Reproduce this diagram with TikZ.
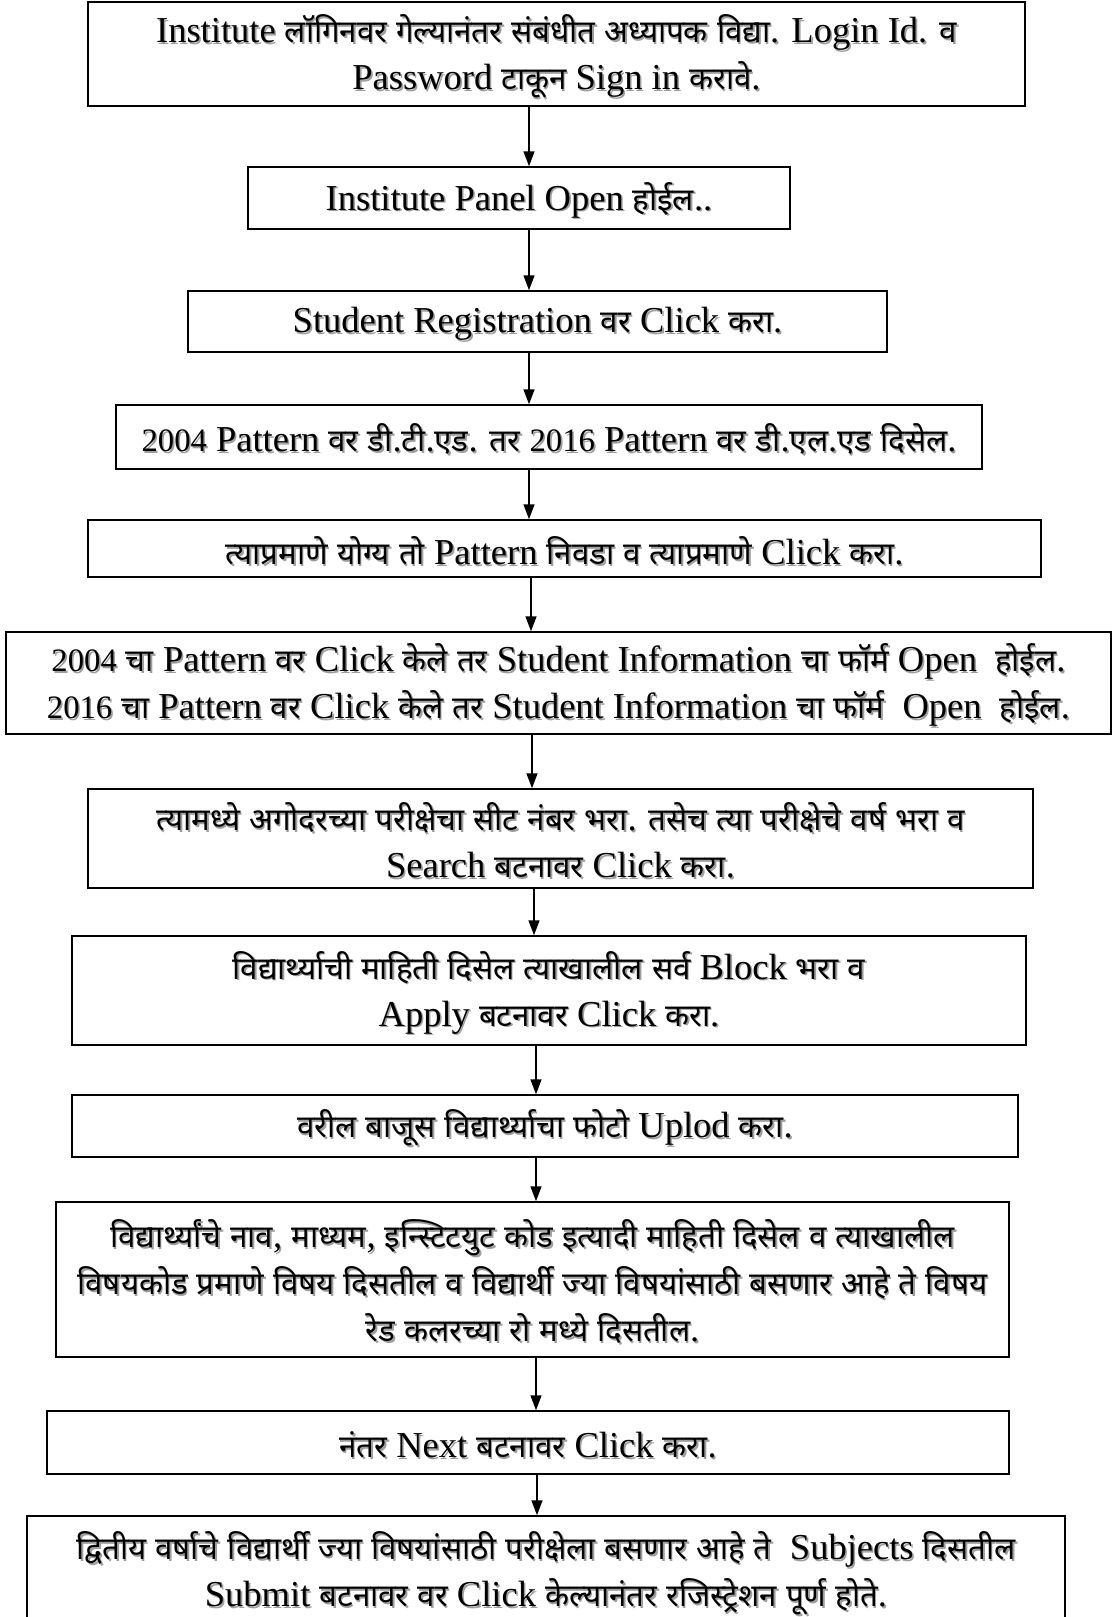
\documentclass[tikz,border=0pt]{standalone}
\usepackage{fontspec}
\setmainfont{Liberation Serif}
\newfontfamily\devfont[Script=Devanagari,Scale=0.855]{Noto Sans}
\usetikzlibrary{arrows.meta}
\definecolor{shadowgray}{gray}{0.62}
\XeTeXinterchartokenstate=1
\newXeTeXintercharclass\DevClass
\newcount\dvc
\dvc="0900
\loop\ifnum\dvc<"0980 \XeTeXcharclass\dvc=\DevClass \advance\dvc by 1 \repeat
\XeTeXinterchartoks 0 \DevClass = {\begingroup\devfont}
\XeTeXinterchartoks 4095 \DevClass = {\begingroup\devfont}
\XeTeXinterchartoks \DevClass 0 = {\endgroup}
\XeTeXinterchartoks \DevClass 4095 = {\endgroup}
\newcommand\st[1]{\leavevmode\raisebox{-3pt}[\height][\depth]{\rlap{\kern1.6pt\raisebox{-1.6pt}{\color{shadowgray}#1}}#1}}
\newcommand\dg[1]{{\fontsize{32.7}{47}\selectfont #1}}
\begin{document}
\begin{tikzpicture}[x=1pt,y=1pt,
  box/.style={draw=black,line width=1.5pt,align=center,inner sep=0pt,font=\fontsize{36.5}{47}\selectfont},
  arr/.style={line width=1.5pt,-{Triangle[length=15pt,width=11pt]}}]
\useasboundingbox (0,0) rectangle (1112,-1617);
\clip (0,0) rectangle (1112,-1617);
\fill[white] (0,0) rectangle (1112,-1617);

\node[box,minimum width=937pt,minimum height=104pt] (b1) at (556.5,-54)
  {\st{Institute लॉगिनवर गेल्यानंतर संबंधीत अध्यापक विद्या. Login Id. व}\\ \st{Password टाकून Sign in करावे.}};
\node[box,minimum width=542pt,minimum height=62pt] (b2) at (519,-198)
  {\st{Institute Panel Open होईल..}};
\node[box,minimum width=699pt,minimum height=61pt] (b3) at (537.5,-321.5)
  {\st{Student Registration वर Click करा.}};
\node[box,minimum width=866pt,minimum height=64pt] (b4) at (549,-437)
  {\st{\dg{2004} Pattern वर डी.टी.एड. तर \dg{2016} Pattern वर डी.एल.एड दिसेल.}};
\node[box,minimum width=953pt,minimum height=57pt] (b5) at (564.5,-548.5)
  {\st{त्याप्रमाणे योग्य तो Pattern निवडा व त्याप्रमाणे Click करा.}};
\node[box,minimum width=1105pt,minimum height=102pt] (b6) at (558.5,-683)
  {\st{\dg{2004} चा Pattern वर Click केले तर Student Information चा फॉर्म Open\ \ होईल.}\\
   \st{\dg{2016} चा Pattern वर Click केले तर Student Information चा फॉर्म\ \ Open\ \ होईल.}};
\node[box,minimum width=945pt,minimum height=99pt] (b7) at (560.5,-838.5)
  {\st{त्यामध्ये अगोदरच्या परीक्षेचा सीट नंबर भरा. तसेच त्या परीक्षेचे वर्ष भरा व}\\ \st{Search बटनावर Click करा.}};
\node[box,minimum width=954pt,minimum height=109pt] (b8) at (549,-990.5)
  {\st{विद्यार्थ्याची माहिती दिसेल त्याखालील सर्व Block भरा व}\\ \st{Apply बटनावर Click करा.}};
\node[box,minimum width=946pt,minimum height=62pt] (b9) at (545,-1126)
  {\st{वरील बाजूस विद्यार्थ्याचा फोटो Uplod करा.}};
\node[box,minimum width=953pt,minimum height=155pt] (b10) at (532.5,-1279.5)
  {\st{विद्यार्थ्यांचे नाव, माध्यम, इन्स्टिटयुट कोड इत्यादी माहिती दिसेल व त्याखालील}\\
   \st{विषयकोड प्रमाणे विषय दिसतील व विद्यार्थी ज्या विषयांसाठी बसणार आहे ते विषय}\\
   \st{रेड कलरच्या रो मध्ये दिसतील.}};
\node[box,minimum width=962pt,minimum height=63pt] (b11) at (528,-1442.5)
  {\st{नंतर Next बटनावर Click करा.}};
\node[box,minimum width=1038pt,minimum height=110pt] (b12) at (546,-1571)
  {\st{द्वितीय वर्षाचे विद्यार्थी ज्या विषयांसाठी परीक्षेला बसणार आहे ते\ \ Subjects दिसतील}\\
   \st{Submit बटनावर वर Click केल्यानंतर रजिस्ट्रेशन पूर्ण होते.}};

\coordinate (ax1) at (529,0);
\coordinate (ax5) at (531,0);
\coordinate (ax6) at (532,0);
\coordinate (ax7) at (534,0);
\coordinate (ax8) at (536,0);
\coordinate (ax11) at (537,0);
\draw[arr] (b1.south -| ax1) -- (b2.north -| ax1);
\draw[arr] (b2.south -| ax1) -- (b3.north -| ax1);
\draw[arr] (b3.south -| ax1) -- (b4.north -| ax1);
\draw[arr] (b4.south -| ax1) -- (b5.north -| ax1);
\draw[arr] (b5.south -| ax5) -- (b6.north -| ax5);
\draw[arr] (b6.south -| ax6) -- (b7.north -| ax6);
\draw[arr] (b7.south -| ax7) -- (b8.north -| ax7);
\draw[arr] (b8.south -| ax8) -- (b9.north -| ax8);
\draw[arr] (b9.south -| ax8) -- (b10.north -| ax8);
\draw[arr] (b10.south -| ax8) -- (b11.north -| ax8);
\draw[arr] (b11.south -| ax11) -- (b12.north -| ax11);
\end{tikzpicture}
\end{document}
